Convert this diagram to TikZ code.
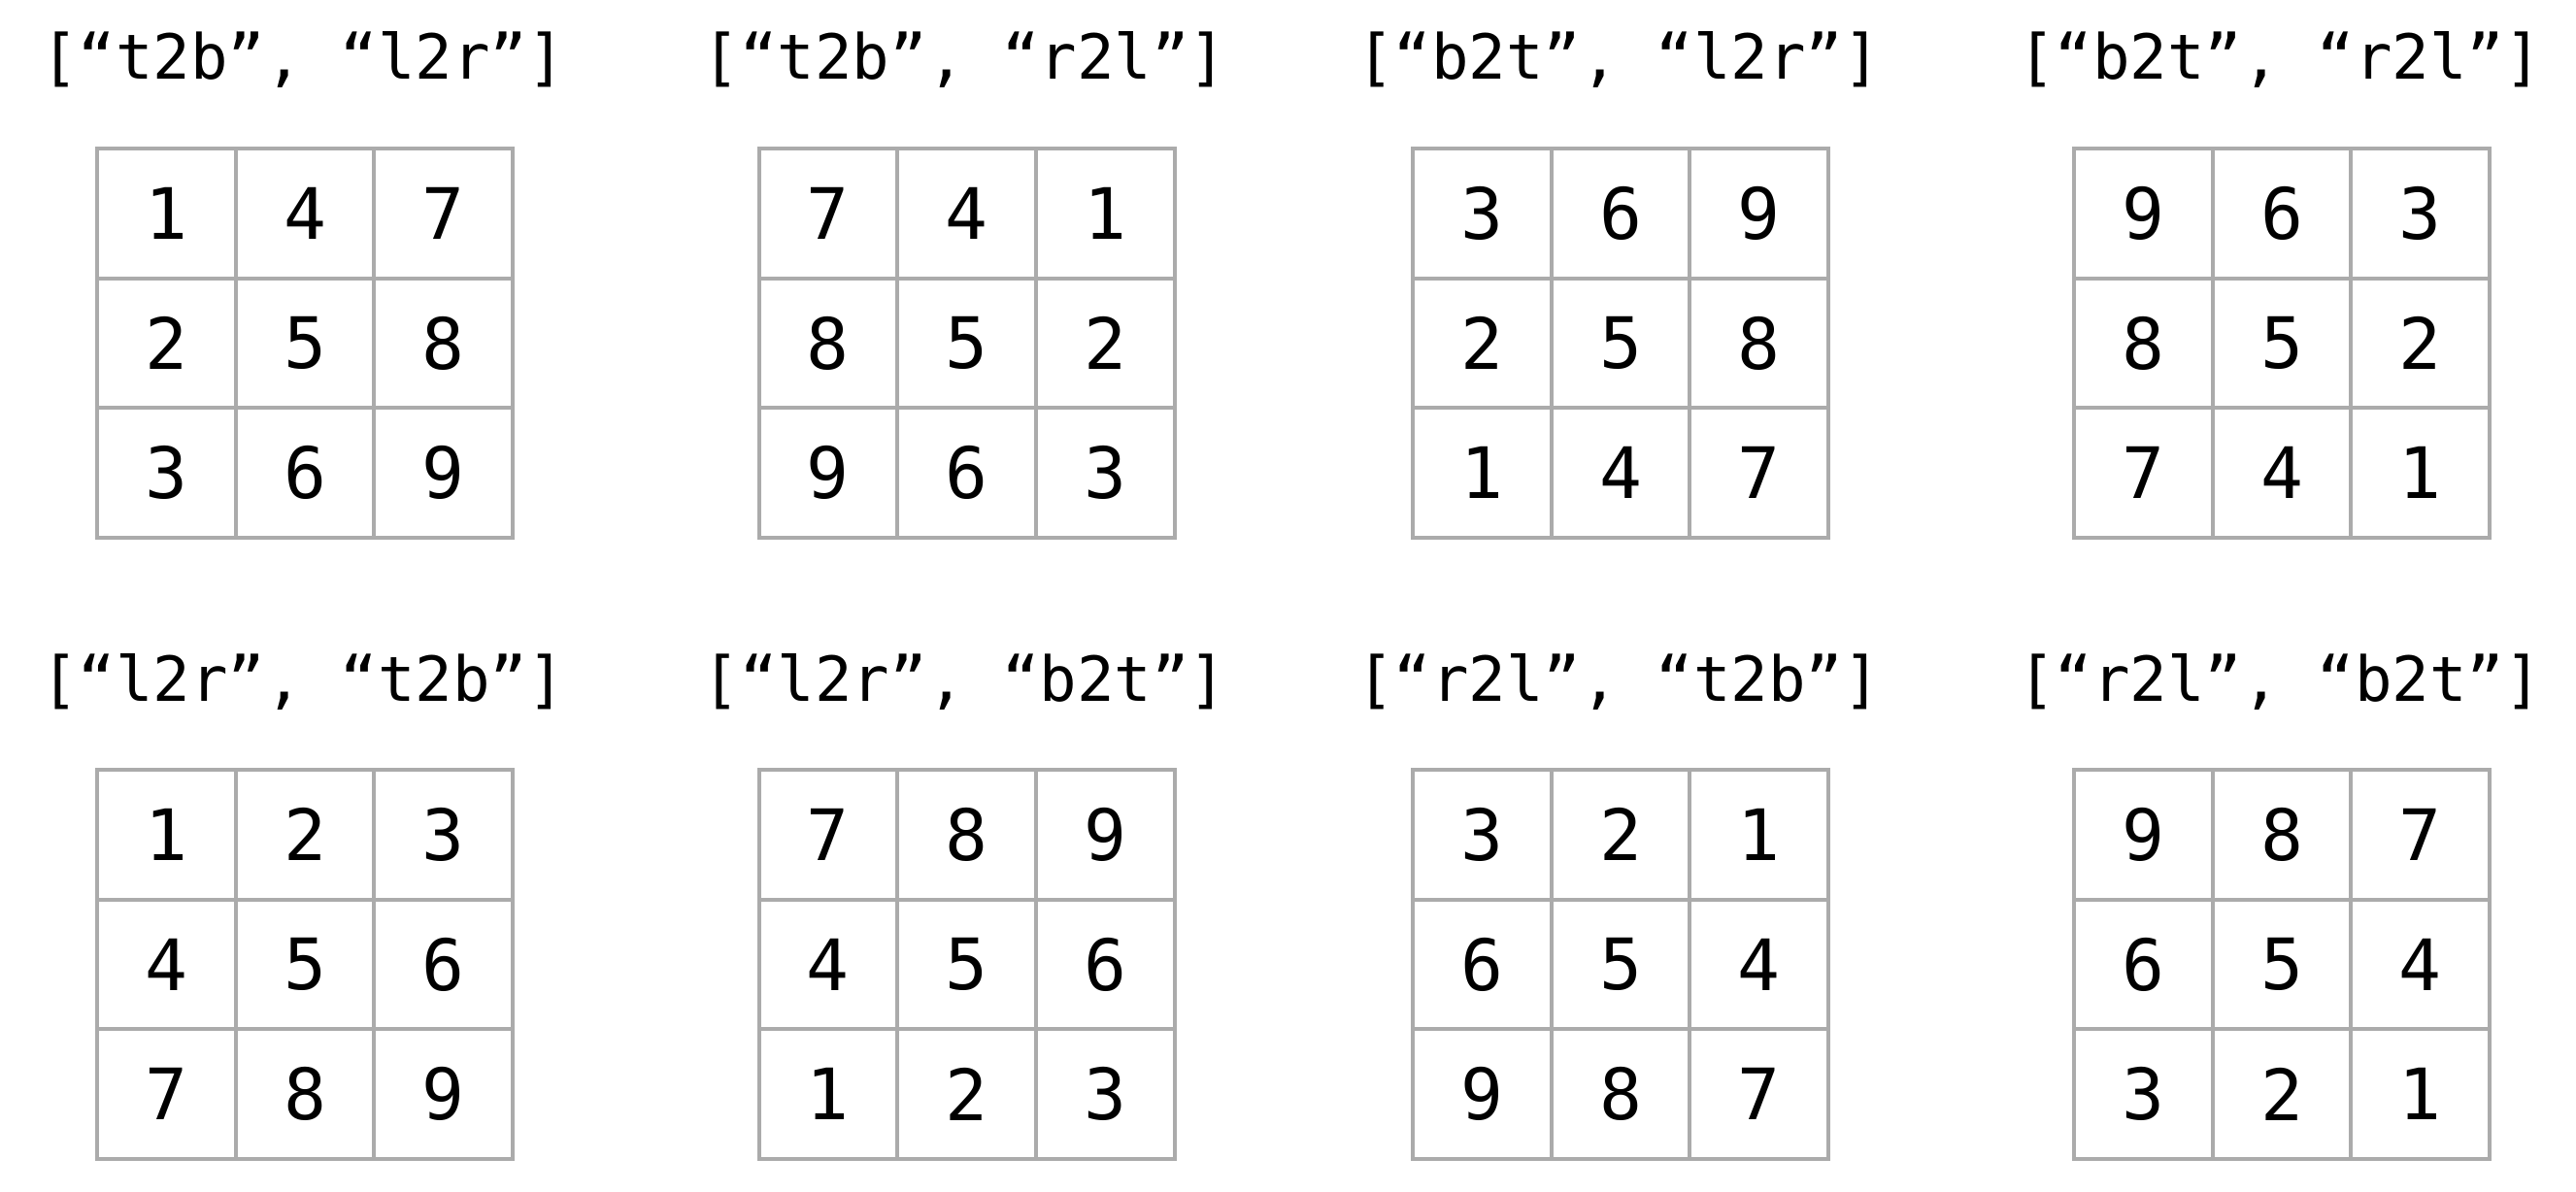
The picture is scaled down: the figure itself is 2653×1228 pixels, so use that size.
\documentclass[tikz,border=0pt]{standalone}
\usepackage{fontspec}
\newfontfamily\titlefont{DejaVu Sans Mono}
\newfontfamily\cellfont{DejaVu Sans Mono}
\definecolor{gridgray}{HTML}{ABABAB}
\tikzset{
  cellbox/.style={draw=gridgray, line width=4pt, minimum width=142.7pt,
    minimum height=133.7pt, inner sep=0pt, anchor=north west,
    font=\cellfont\fontsize{73}{73}\selectfont},
  gridtitle/.style={anchor=base, inner sep=0pt,
    font=\titlefont\fontsize{64}{64}\selectfont}
}
\begin{document}
\begin{tikzpicture}[x=1pt,y=1pt]
\useasboundingbox (0,0) rectangle (2653,-1228);
\foreach \g/\lx/\ty/\lab/\vals in {
  1/98/151/{[“t2b”, “l2r”]}/{1,4,7,2,5,8,3,6,9},
  2/779.5/151/{[“t2b”, “r2l”]}/{7,4,1,8,5,2,9,6,3},
  3/1453/151/{[“b2t”, “l2r”]}/{3,6,9,2,5,8,1,4,7},
  4/2134/151/{[“b2t”, “r2l”]}/{9,6,3,8,5,2,7,4,1},
  5/98/791/{[“l2r”, “t2b”]}/{1,2,3,4,5,6,7,8,9},
  6/779.5/791/{[“l2r”, “b2t”]}/{7,8,9,4,5,6,1,2,3},
  7/1453/791/{[“r2l”, “t2b”]}/{3,2,1,6,5,4,9,8,7},
  8/2134/791/{[“r2l”, “b2t”]}/{9,8,7,6,5,4,3,2,1}} {
  \node[gridtitle] (t\g) at (\lx+214.05,-\ty+69) {\lab};
  \foreach \v [count=\k from 0] in \vals {
    \pgfmathtruncatemacro\rr{div(\k,3)}
    \pgfmathtruncatemacro\cc{mod(\k,3)}
    \node[cellbox] (g\g-\rr-\cc) at (\lx+\cc*142.7,-\ty-\rr*133.7) {\v};
  }
}
\end{tikzpicture}
\end{document}
